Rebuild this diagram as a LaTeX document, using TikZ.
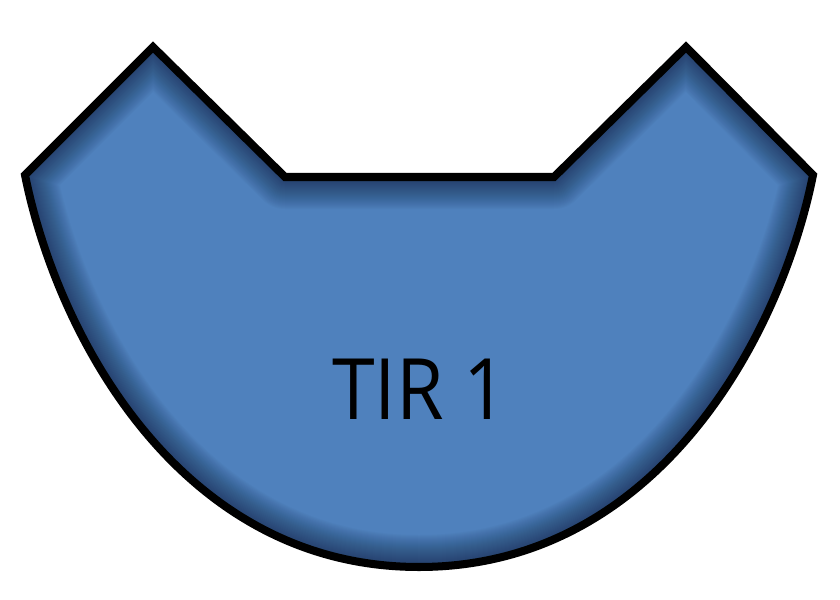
\documentclass[tikz,border=0pt]{standalone}
\usepackage{fontspec}
\setsansfont{Open Sans}
\definecolor{tirblue}{RGB}{79,129,189}
\definecolor{tirshade}{RGB}{15,30,55}
\def\shp{(25,175) -- (153,47) -- (285,177) -- (554,177) -- (686,47) -- (813,175) .. controls (781,335) and (658,567) .. (419,567) .. controls (180,567) and (57,335) .. (25,175) -- cycle}
\begin{document}
\begin{tikzpicture}[x=0.05cm,y=-0.05cm,
  shade layer/.style={draw=tirshade,draw opacity=0.022,line join=round},
  outline/.style={draw=black,line width=11.4pt,line join=miter,miter limit=10},
  label text/.style={inner sep=0pt,text=black,font=\sffamily}]
\useasboundingbox[fill=white] (0,0) rectangle (840,600);
\fill[tirblue] \shp;
\begin{scope}
  \clip \shp;
  \foreach \w in {2,4,...,64} {
    \draw[shade layer,line width=\w*1.4226pt] \shp;
  }
\end{scope}
\draw[outline] \shp;
\node[label text] (tir) at (420,389) {\resizebox{250pt}{86pt}{TIR 1}};
\end{tikzpicture}
\end{document}
